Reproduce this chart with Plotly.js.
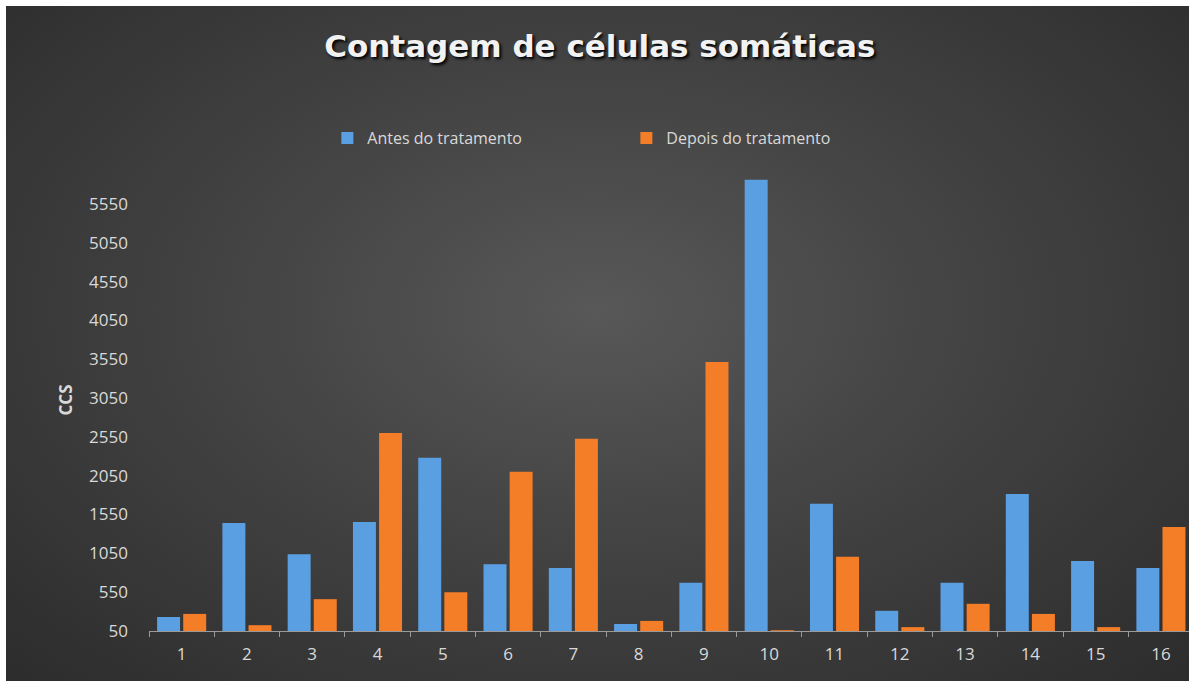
<!DOCTYPE html>
<html>
<head>
<meta charset="utf-8">
<script src="https://cdn.plot.ly/plotly-3.0.1.min.js"></script>
<style>
  html, body { margin: 0; padding: 0; background: #ffffff; overflow: hidden; }
  #wrap {
    position: absolute; left: 6px; top: 6px; width: 1183px; height: 675px;
    background: radial-gradient(ellipse at 50% 45%, #585858 0%, #454545 40%, #2c2c2c 100%);
  }
  #chart { width: 1183px; height: 675px; }
</style>
</head>
<body>
<div id="wrap"><div id="chart"></div></div>
<script>
const categories = ["1","2","3","4","5","6","7","8","9","10","11","12","13","14","15","16"];
const antes = [230, 1440, 1040, 1455, 2280, 910, 860, 140, 670, 5860, 1690, 310, 670, 1815, 950, 860];
const depois = [270, 125, 460, 2600, 550, 2100, 2525, 180, 3515, 60, 1005, 100, 400, 270, 100, 1390];
const seriesNames = ["Antes do tratamento", "Depois do tratamento"];
const yTickStart = 50, yTickStep = 500;

const textColor = "#d9d9d9";
const data = [
  { type: "bar", name: seriesNames[0], x: categories, y: antes,
    marker: { color: "#5b9fe3" } },
  { type: "bar", name: seriesNames[1], x: categories, y: depois,
    marker: { color: "#f47d28" } }
];
const layout = {
  width: 1183, height: 675,
  paper_bgcolor: "rgba(0,0,0,0)", plot_bgcolor: "rgba(0,0,0,0)",
  margin: { l: 143, r: 0, t: 163, b: 50, autoexpand: false },
  barmode: "group", bargap: 0.2, bargroupgap: 0.12,
  font: { family: "Open Sans, Noto Sans, sans-serif", color: textColor, size: 17 },
  title: {
    text: "Contagem de células somáticas",
    x: 0.502, xanchor: "center", y: 0.94, yanchor: "middle",
    font: { family: "DejaVu Sans", size: 31, weight: "bold", color: "#f2f2f2", shadow: "2px 2px 3px #000" }
  },
  legend: {
    orientation: "h", x: 0.459, xanchor: "center", y: 1.067, yanchor: "middle",
    font: { size: 16, color: textColor }, entrywidth: 254, itemwidth: 30,
    bgcolor: "rgba(0,0,0,0)"
  },
  xaxis: {
    type: "category", range: [-0.5, 15.43],
    showline: true, linecolor: "#9a9a9a", linewidth: 1,
    ticks: "outside", tickson: "boundaries", ticklen: 5, tickcolor: "#9a9a9a",
    ticklabelstandoff: 8,
    showgrid: false, zeroline: false,
    tickfont: { size: 17, color: textColor }
  },
  yaxis: {
    range: [50, 6000], tick0: yTickStart, dtick: yTickStep,
    showgrid: false, zeroline: false, showline: false, ticks: "",
    ticklabelstandoff: 20,
    tickfont: { size: 17, color: textColor },
    title: { text: "CCS", standoff: 12, font: { size: 17, color: textColor, weight: "bold" } }
  },
  showlegend: true
};
Plotly.newPlot("chart", data, layout, { displayModeBar: false, staticPlot: true });
</script>
</body>
</html>
